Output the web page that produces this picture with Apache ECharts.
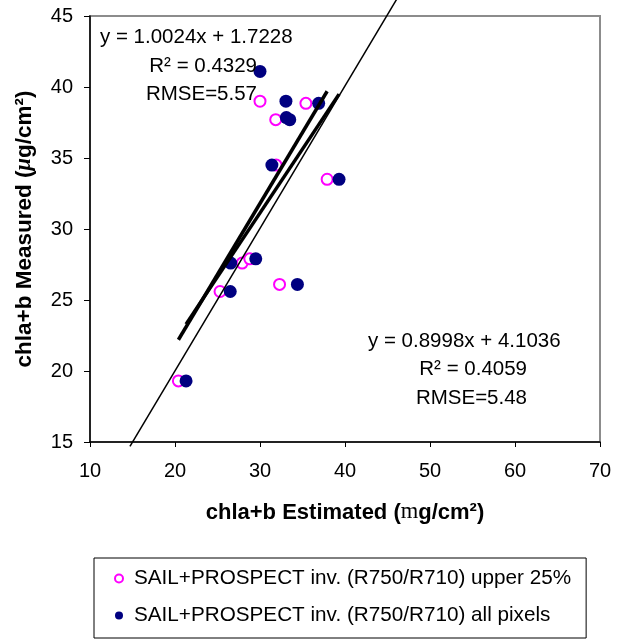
<!DOCTYPE html>
<html><head><meta charset="utf-8">
<script src="https://cdn.jsdelivr.net/npm/echarts@6/dist/echarts.min.js"></script>
<style>html,body{margin:0;padding:0;background:#fff}#c{width:617px;height:639px}</style>
</head><body><div id="c"></div>
<script>
// Data
const upperName = 'SAIL+PROSPECT inv. (R750/R710) upper 25%';
const allName = 'SAIL+PROSPECT inv. (R750/R710) all pixels';
const upperX = [20.4, 25.3, 27.9, 28.8, 32.3, 31.9, 31.85, 30.0, 35.4, 37.9];
const upperY = [19.3, 25.6, 27.6, 27.9, 26.1, 34.5, 37.7, 39.0, 38.85, 33.5];
const allX = [21.3, 26.5, 26.55, 29.5, 34.4, 31.4, 33.1, 33.5, 33.05, 36.9, 30.0, 39.3];
const allY = [19.3, 25.6, 27.6, 27.9, 26.1, 34.5, 37.85, 37.7, 39.0, 38.85, 41.1, 33.5];
// trend line end points
const fitUpperX = [20.4, 37.9];
const fitUpperY = [22.2, 39.7];
const fitAllX = [21.3, 39.3];
const fitAllY = [23.3, 39.5];
const oneToOneX = [14.7, 46.1];
const oneToOneY = [14.7, 46.2];
const xTicks = {min: 10, max: 70, step: 10};
const yTicks = {min: 15, max: 45, step: 5};
const annoUpper = ['y = 1.0024x + 1.7228', 'R² = 0.4329', 'RMSE=5.57'];
const annoAll = ['y = 0.8998x + 4.1036', 'R² = 0.4059', 'RMSE=5.48'];

const FONT = '"Liberation Sans", Arial, sans-serif';
const zip = (a, b) => a.map((v, i) => [v, b[i]]);

const chart = echarts.init(document.getElementById('c'), null, {renderer: 'canvas'});
const txt = (t, x, y, align) => ({
  type: 'text', x: x, y: y, z: 100,
  style: {text: t, fill: '#000', font: '20.5px ' + FONT, textAlign: align || 'left', textVerticalAlign: 'middle'}
});
chart.setOption({
  backgroundColor: '#fff',
  animation: false,
  grid: {left: 90, top: 16, right: 17, bottom: 197, show: true, borderColor: '#8c8c8c', borderWidth: 2, backgroundColor: 'transparent'},
  xAxis: {
    type: 'value', min: xTicks.min, max: xTicks.max, interval: xTicks.step,
    splitLine: {show: false},
    axisLine: {show: true, onZero: false, lineStyle: {color: '#000', width: 1.5}},
    axisTick: {show: true, length: 5, lineStyle: {color: '#000'}},
    axisLabel: {fontSize: 20, fontFamily: FONT, color: '#000', margin: 19},
    name: 'chla+b Estimated ({m|m}g/cm²)', nameLocation: 'middle', nameGap: 59,
    nameTextStyle: {fontSize: 22, fontWeight: 'bold', fontFamily: FONT, color: '#000',
      rich: {m: {fontFamily: '"Liberation Serif", serif', fontWeight: 'normal', fontSize: 22.5, color: '#000'}}}
  },
  yAxis: {
    type: 'value', min: yTicks.min, max: yTicks.max, interval: yTicks.step,
    splitLine: {show: false},
    axisLine: {show: true, onZero: false, lineStyle: {color: '#000', width: 1.5}},
    axisTick: {show: true, length: 6, lineStyle: {color: '#000'}},
    axisLabel: {fontSize: 20, fontFamily: FONT, color: '#000', margin: 17},
    name: 'chla+b Measured ({u|μ}g/cm²)', nameLocation: 'middle', nameGap: 54, nameRotate: 90,
    nameTextStyle: {fontSize: 22.5, fontWeight: 'bold', fontFamily: FONT, color: '#000',
      rich: {u: {fontFamily: '"Liberation Serif", serif', fontStyle: 'italic', fontWeight: 'bold', fontSize: 22.5, color: '#000'}}}
  },
  legend: {
    orient: 'vertical', left: 94, top: 558, padding: [10, 15, 12, 20], itemGap: 16,
    itemWidth: 8, itemHeight: 8, borderColor: '#000', borderWidth: 1,
    data: [upperName, allName],
    textStyle: {fontSize: 20.7, fontFamily: FONT, color: '#000', padding: [0, 0, 0, 6]}
  },
  series: [
    {name: upperName, type: 'scatter', symbol: 'circle', symbolSize: 11, data: zip(upperX, upperY), z: 3,
     itemStyle: {color: '#fff', borderColor: '#ff00ff', borderWidth: 2, opacity: 1}},
    {name: allName, type: 'scatter', symbol: 'circle', symbolSize: 13, data: zip(allX, allY), z: 4,
     itemStyle: {color: '#000080', opacity: 1}},
    {type: 'line', data: zip(fitUpperX, fitUpperY), showSymbol: false, symbol: 'none', z: 5, silent: true,
     lineStyle: {color: '#000', width: 3.5}},
    {type: 'line', data: zip(fitAllX, fitAllY), showSymbol: false, symbol: 'none', z: 5, silent: true,
     lineStyle: {color: '#000', width: 3.5}},
    {type: 'line', data: zip(oneToOneX, oneToOneY), showSymbol: false, symbol: 'none', z: 5, silent: true, clip: false,
     lineStyle: {color: '#000', width: 1.5}}
  ],
  graphic: [
    txt(annoUpper[0], 100, 37),
    txt(annoUpper[1], 257, 66, 'right'),
    txt(annoUpper[2], 257, 94, 'right'),
    txt(annoAll[0], 368, 341),
    txt(annoAll[1], 527, 369, 'right'),
    txt(annoAll[2], 527, 398, 'right')
  ]
});
</script></body></html>
